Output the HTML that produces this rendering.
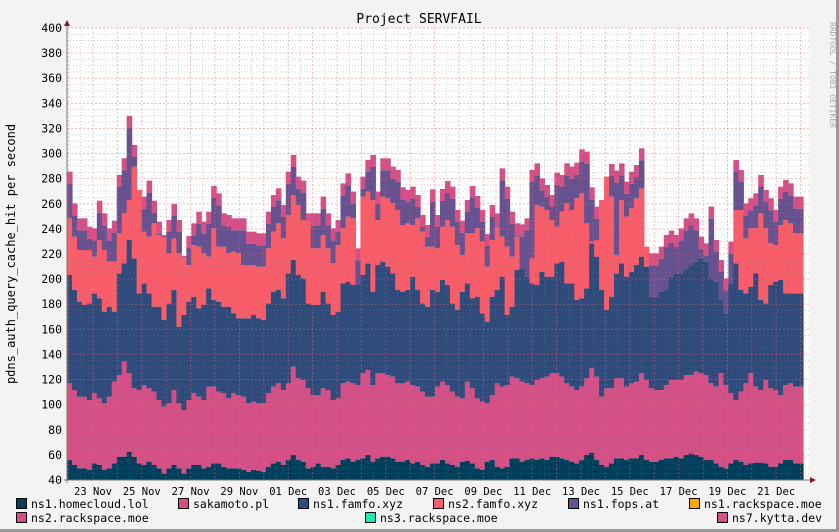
<!DOCTYPE html>
<html><head><meta charset="utf-8"><style>
html,body{margin:0;padding:0;background:#f3f3f3;}
svg{display:block;font-family:"DejaVu Sans Mono","Liberation Mono",monospace;}
</style></head><body>
<svg id="s" width="839" height="532" xmlns="http://www.w3.org/2000/svg">
<rect x="0" y="0" width="839" height="532" fill="#f3f3f3"/>
<rect x="836" y="0" width="3" height="532" fill="#9a9a9a"/>
<rect x="0" y="529" width="839" height="3" fill="#9a9a9a"/>
<rect x="67" y="28" width="742" height="452" fill="#ffffff"/>
<g id="bars"></g>
<g id="grid"></g>
<text x="419" y="23" font-size="13" text-anchor="middle" fill="#000">Project SERVFAIL</text>
<text x="15" y="254" font-size="12" text-anchor="middle" transform="rotate(-90 15 254)" fill="#000">pdns_auth_query_cache_hit per second</text>
<text x="830" y="75" font-size="8" text-anchor="middle" transform="rotate(90 830 75)" fill="#aaa">RRDTOOL / TOBI OETIKER</text>
<g id="lab" fill="#000"></g>
<line x1="67" y1="24" x2="67" y2="483" stroke="#777" stroke-width="1"/>
<line x1="64" y1="480" x2="812" y2="480" stroke="#777" stroke-width="1"/>
<polygon points="64,26 70,26 67,20" fill="#8b1a1a"/>
<polygon points="810,477 810,483 816,480" fill="#8b1a1a"/>
<g font-size="11.5" fill="#000">
<rect x="16.5" y="498.5" width="10" height="10" fill="#003f5c" stroke="#000"/><text x="31" y="508">ns1.homecloud.lol</text>
<rect x="178.5" y="498.5" width="10" height="10" fill="#d45087" stroke="#000"/><text x="193" y="508">sakamoto.pl</text>
<rect x="298.5" y="498.5" width="10" height="10" fill="#2f4b7c" stroke="#000"/><text x="313" y="508">ns1.famfo.xyz</text>
<rect x="433.5" y="498.5" width="10" height="10" fill="#f95d6a" stroke="#000"/><text x="448" y="508">ns2.famfo.xyz</text>
<rect x="568.5" y="498.5" width="10" height="10" fill="#665191" stroke="#000"/><text x="583" y="508">ns1.fops.at</text>
<rect x="689.5" y="498.5" width="10" height="10" fill="#ffa600" stroke="#000"/><text x="704" y="508">ns1.rackspace.moe</text>
<rect x="16.5" y="512.5" width="10" height="10" fill="#d45087" stroke="#000"/><text x="31" y="522">ns2.rackspace.moe</text>
<rect x="365.5" y="512.5" width="10" height="10" fill="#1de9b6" stroke="#000"/><text x="380" y="522">ns3.rackspace.moe</text>
<rect x="717.5" y="512.5" width="10" height="10" fill="#d45087" stroke="#000"/><text x="732" y="522">ns7.kytta.dev</text>
</g>
</svg>
<script>
var T=[185,280,325,325,350,355,272,310,355,332,195,145,18,105,255,260,212,272,335,375,330,282,330,438,378,340,305,335,305,228,250,310,315,325,325,325,365,
365,370,370,305,255,235,285,185,135,200,212,310,310,310,260,310,355,330,220,190,245,415,200,150,135,245,145,145,170,180,232,240,230,255,315,345,238,
315,237,213,230,300,332,270,228,258,300,372,285,310,175,230,305,340,343,325,180,160,205,225,255,188,195,160,170,158,118,125,232,290,290,260,162,182,
160,215,185,165,115,410,430,430,410,375,362,375,355,325,310,325,380,400,290,390,450,505,395,150,180,280,265,250,195,240,265,300,230,210,220,260,260];
var H4=[325,380,420,420,420,440,390,420,455,455,370,310,270,170,240,365,380,340,375,385,430,385,430,445,465,405,410,430,440,355,410,410,430,425,430,465,465,
465,470,470,415,365,340,385,315,255,285,330,335,415,415,375,415,460,405,355,320,325,525,260,245,270,330,260,265,280,300,345,340,345,325,365,410,410,
415,350,330,350,405,435,370,370,355,395,470,390,350,380,410,440,380,600,585,445,285,290,300,330,350,305,280,300,265,250,340,395,390,270,200,260,435,
270,320,295,265,235,410,0,0,0,0,0,0,0,0,0,0,0,0,0,0,0,0,0,300,300,385,355,355,310,355,400,405,345,330,340,370,370];
var H3=[495,540,575,585,580,550,565,605,590,605,490,460,390,445,550,520,550,590,590,630,580,540,650,615,575,560,595,585,535,570,575,590,590,610,625,625,625,
615,625,630,580,545,540,565,490,450,495,505,580,585,585,545,580,615,605,520,515,525,525,495,460,545,465,455,470,490,540,545,540,500,540,580,590,540,
545,510,525,580,600,545,520,565,560,610,635,560,540,500,615,590,480,475,500,520,525,485,500,500,460,455,520,520,570,565,535,400,440,540,600,560,490,
460,500,485,465,440,470,560,560,545,540,500,490,490,480,465,455,445,455,505,515,570,610,520,460,540,550,530,490,570,580,525,515,510,550,550,550,550];
var H2=[820,840,860,860,870,850,865,880,860,815,795,755,790,835,840,825,835,845,870,890,880,840,880,900,870,850,860,870,830,830,845,850,865,850,855,860,880,
875,880,880,850,830,820,840,820,770,805,810,835,855,855,835,840,870,865,820,815,820,825,790,780,825,790,790,795,800,820,820,815,825,830,845,860,860,
830,815,825,845,860,865,815,835,865,875,880,855,820,830,825,800,805,815,820,825,810,805,800,790,790,800,820,830,840,830,805,775,800,860,835,835,805,
805,830,820,815,790,810,835,840,840,825,810,810,810,795,795,785,790,795,820,830,790,825,850,870,845,820,790,830,840,810,835,840,855,825,820,830,830];
var H1=[1050,1065,1075,1075,1080,1060,1065,1080,1075,1060,1040,1040,1025,1040,1060,1065,1055,1065,1075,1090,1075,1065,1075,1090,1075,1065,1065,1075,1070,1060,1060,1070,1075,1075,1075,1080,1085,
1080,1082,1085,1070,1060,1055,1065,1050,1035,1050,1055,1075,1070,1060,1070,1070,1075,1065,1050,1045,1055,1050,1045,1035,1055,1045,1040,1040,1045,1055,1055,1050,1060,1055,1065,1070,1060,
1060,1050,1060,1065,1070,1055,1052,1060,1075,1080,1055,1050,1070,1075,1070,1045,1045,1055,1050,1045,1050,1045,1050,1040,1040,1045,1050,1055,1060,1050,1035,1028,1050,1065,1070,1060,1045,
1045,1050,1045,1045,1035,1050,1055,1055,1050,1045,1045,1040,1045,1035,1030,1035,1040,1050,1050,1060,1070,1075,1060,1050,1055,1065,1060,1058,1058,1060,1070,1070,1060,1050,1050,1060,1060];
var NS="http://www.w3.org/2000/svg";
function R(g,x,y,w,h,c){if(h<=0)return;var r=document.createElementNS(NS,"rect");r.setAttribute("x",x);r.setAttribute("y",y);r.setAttribute("width",w);r.setAttribute("height",h);r.setAttribute("fill",c);g.appendChild(r);}
function L(g,x1,y1,x2,y2,c,d){var l=document.createElementNS(NS,"line");l.setAttribute("x1",x1);l.setAttribute("y1",y1);l.setAttribute("x2",x2);l.setAttribute("y2",y2);l.setAttribute("stroke",c);l.setAttribute("stroke-width",1);l.setAttribute("stroke-dasharray",d);g.appendChild(l);}
function Tx(g,x,y,s,a,fs){var t=document.createElementNS(NS,"text");t.setAttribute("x",x);t.setAttribute("y",y);t.setAttribute("text-anchor",a);t.setAttribute("font-size",fs);t.textContent=s;g.appendChild(t);}
var b=document.getElementById("bars"),n=T.length,bw=736/n;
function o(z){return 110+z/3;}
for(var i=0;i<n;i++){
 var x=67+i*bw,w=bw+0.6;
 var h1=o(H1[i]),h2=o(H2[i]),h3=o(H3[i]),h4=H4[i]?o(H4[i]):h3,t=o(T[i]);
 h4=Math.min(h4,h3);var h5=Math.min(t+12,h4);
 R(b,x,h1,w,480-h1,"#003f5c");
 R(b,x,h2,w,h1-h2,"#d45087");
 R(b,x,h3,w,h2-h3,"#2f4b7c");
 R(b,x,h4,w,h3-h4,"#f95d6a");
 R(b,x,h5,w,h4-h5,"#665191");
 R(b,x,t,w,h5-t,"#d45087");
}
var g=document.getElementById("grid"),lab=document.getElementById("lab");
var py=452/360;
for(var v=40;v<=400;v+=5){var y=480-(v-40)*py;
 if(v%20==0){L(g,67,y,809,y,"rgba(240,100,100,0.45)","2,2");Tx(lab,62,y+4,String(v),"end",11.5);}
 else L(g,67,y,809,y,"rgba(120,120,120,0.35)","1,2");}
var days=["23 Nov","25 Nov","27 Nov","29 Nov","01 Dec","03 Dec","05 Dec","07 Dec","09 Dec","11 Dec","13 Dec","15 Dec","17 Dec","19 Dec","21 Dec"];
var d0=93,dd=24.4;
for(var k=-2;k<60;k++){var x=d0+k*dd/2; if(x<68||x>808)continue;
 if(k%2==0)L(g,x,28,x,480,"rgba(240,100,100,0.45)","2,2");else L(g,x,28,x,480,"rgba(120,120,120,0.35)","1,2");}
for(var k=0;k<days.length;k++){var x=d0+k*dd*2;Tx(lab,x,495,days[k],"middle",10.5);}
</script>
</body></html>
